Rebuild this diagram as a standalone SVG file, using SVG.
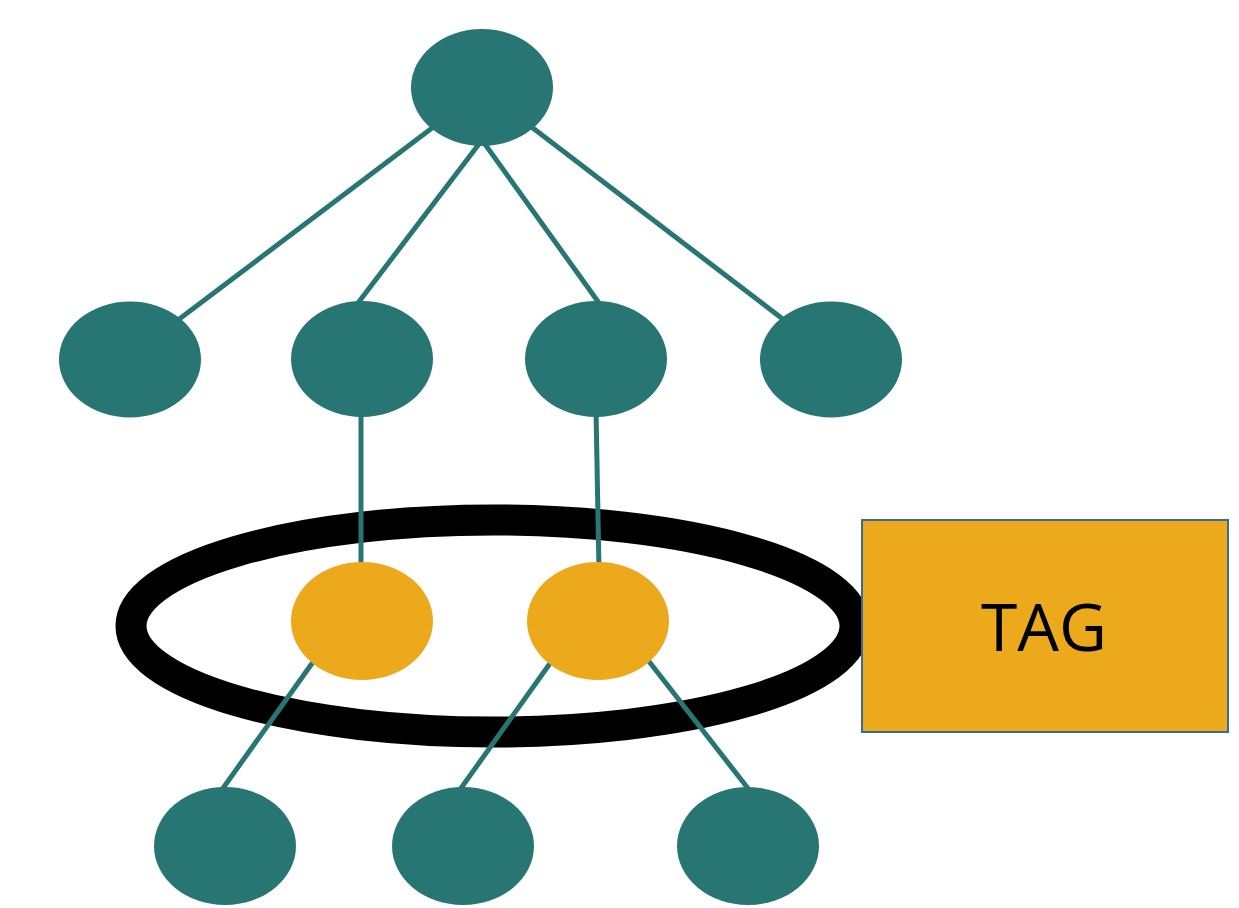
<svg xmlns="http://www.w3.org/2000/svg" width="1239" height="908" viewBox="0 0 1239 908">
<style>
.n{fill:#287673}
.y{fill:#EDA91C}
.e{stroke:#287673;stroke-width:5;fill:none}
</style>
<rect width="1239" height="908" fill="#fff"/>
<ellipse id="ring" cx="493" cy="626" rx="362" ry="106" fill="none" stroke="#000" stroke-width="31"/>
<g id="connectors">
<line class="e" x1="440" y1="122" x2="178" y2="320"/>
<line class="e" x1="482" y1="140" x2="358" y2="303"/>
<line class="e" x1="482" y1="140" x2="599" y2="303"/>
<line class="e" x1="525" y1="122" x2="784" y2="320"/>
<line class="e" x1="361" y1="410" x2="361" y2="570"/>
<line class="e" x1="596" y1="410" x2="599" y2="570"/>
<line class="e" x1="318" y1="655" x2="221" y2="791"/>
<line class="e" x1="556" y1="655" x2="459" y2="791"/>
<line class="e" x1="644" y1="655" x2="750" y2="791"/>
</g>
<g id="root"><ellipse class="n" cx="482" cy="87.5" rx="71" ry="58.5"/></g>
<g id="l2a"><ellipse class="n" cx="130" cy="359.5" rx="71" ry="58"/></g>
<g id="l2b"><ellipse class="n" cx="362" cy="359" rx="71" ry="58"/></g>
<g id="l2c"><ellipse class="n" cx="596" cy="359" rx="71" ry="58"/></g>
<g id="l2d"><ellipse class="n" cx="831" cy="359.5" rx="71" ry="58"/></g>
<g id="y1"><ellipse class="y" cx="362" cy="621" rx="71" ry="59"/></g>
<g id="y2"><ellipse class="y" cx="598" cy="621" rx="71" ry="59"/></g>
<g id="b1"><ellipse class="n" cx="225" cy="846" rx="71" ry="59"/></g>
<g id="b2"><ellipse class="n" cx="463" cy="846" rx="71" ry="59"/></g>
<g id="b3"><ellipse class="n" cx="748" cy="846" rx="71" ry="59"/></g>
<g id="tag">
<rect x="862" y="520" width="366" height="212" fill="#EDA91C" stroke="#3A6A9A" stroke-width="2"/>
<text x="1044" y="651" text-anchor="middle" font-family="'Open Sans', 'Noto Sans', sans-serif" font-size="66" fill="#000">TAG</text>
</g>
</svg>
